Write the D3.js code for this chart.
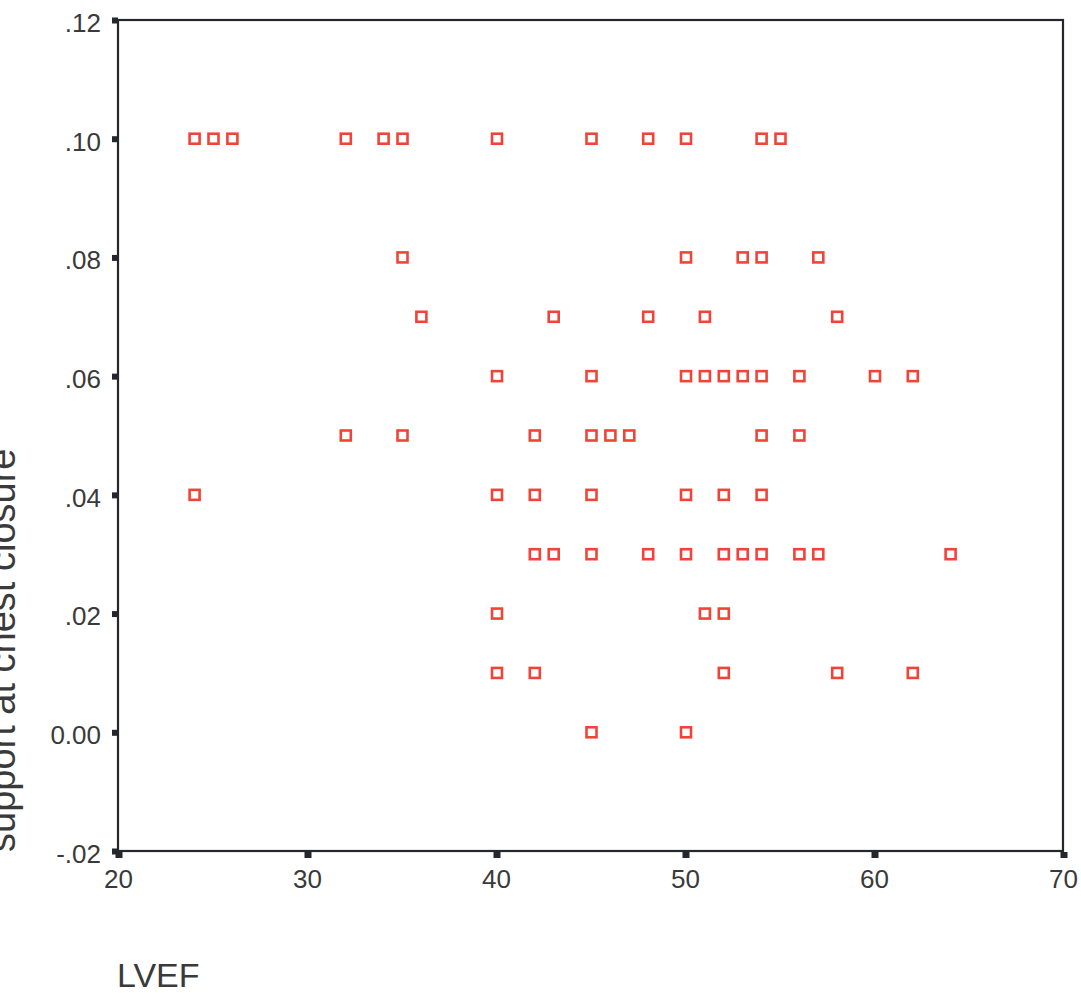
<!DOCTYPE html>
<html><head><meta charset="utf-8">
<script src="https://cdn.jsdelivr.net/npm/d3@7"></script>
<style>
html,body{margin:0;padding:0;background:#fff;}
svg{display:block;font-family:"Liberation Sans",Arial,sans-serif;}
</style></head>
<body><div id="chart"></div>
<script>
// LVEF values (x) and support at chest closure values (y)
const lvef = [
  24,25,26,32,34,35,40,45,48,50,54,55,
  35,50,53,54,57,
  36,43,48,51,58,
  40,45,50,51,52,53,54,56,60,62,
  32,35,42,45,46,47,54,56,
  24,40,42,45,50,52,54,
  42,43,45,48,50,52,53,54,56,57,64,
  40,51,52,
  40,42,52,58,62,
  45,50
];
const support = [
  .10,.10,.10,.10,.10,.10,.10,.10,.10,.10,.10,.10,
  .08,.08,.08,.08,.08,
  .07,.07,.07,.07,.07,
  .06,.06,.06,.06,.06,.06,.06,.06,.06,.06,
  .05,.05,.05,.05,.05,.05,.05,.05,
  .04,.04,.04,.04,.04,.04,.04,
  .03,.03,.03,.03,.03,.03,.03,.03,.03,.03,.03,
  .02,.02,.02,
  .01,.01,.01,.01,.01,
  0,0
];
const xTicks = [20,30,40,50,60,70];
const yTicks = [-0.02,0,0.02,0.04,0.06,0.08,0.10,0.12];
const xTitle = "LVEF";
const yTitle = "support at chest closure";

const W = 1081, H = 993;
const mLeft = 118, mRight = 1063, mTop = 20, mBottom = 851;

const svg = d3.select("#chart").append("svg").attr("width", W).attr("height", H);

const x = d3.scaleLinear().domain([20,70]).range([mLeft,mRight]);
const y = d3.scaleLinear().domain([-0.02,0.12]).range([mBottom,mTop]);

const axisColor = "#26262f";
const textColor = "#3a3a3a";

// frame
svg.append("rect").attr("x",mLeft).attr("y",mTop).attr("width",mRight-mLeft).attr("height",mBottom-mTop)
  .attr("fill","none").attr("stroke",axisColor).attr("stroke-width",2.2);

const fmtY = d => Math.abs(d) < 1e-9 ? "0.00" : d3.format(".2f")(d).replace("\u2212","-").replace("0.", ".");

// y axis
const yAxis = svg.append("g").attr("transform",`translate(${mLeft},0)`)
  .call(d3.axisLeft(y).tickValues(yTicks).tickFormat(fmtY).tickSize(0).tickPadding(17));
yAxis.select(".domain").remove();
yAxis.selectAll("text").attr("fill",textColor).attr("y",3).style("font-size","26px")
  .style("font-family","'Liberation Sans',Arial,sans-serif");
yAxis.selectAll(".tick").append("rect").attr("x",-6).attr("y",-3).attr("width",6).attr("height",6).attr("fill",axisColor);

// x axis
const xAxis = svg.append("g").attr("transform",`translate(0,${mBottom})`)
  .call(d3.axisBottom(x).tickValues(xTicks).tickFormat(d3.format("d")).tickSize(0).tickPadding(19));
xAxis.select(".domain").remove();
xAxis.selectAll("text").attr("fill",textColor).style("font-size","26px")
  .style("font-family","'Liberation Sans',Arial,sans-serif");
xAxis.selectAll(".tick").append("rect").attr("x",-3).attr("y",1).attr("width",7).attr("height",6).attr("fill",axisColor);

// points
const pts = lvef.map((v,i)=>({x:v,y:support[i]}));
const s = 10;
svg.append("g").selectAll("rect.pt").data(pts).join("rect").attr("class","pt")
  .attr("x",d=>x(d.x)-s/2+1).attr("y",d=>y(d.y)-s/2)
  .attr("width",s).attr("height",s)
  .attr("fill","#fff").attr("stroke","#f04438").attr("stroke-width",2.6);

// titles
svg.append("text").attr("x",117).attr("y",987).attr("fill",textColor)
  .style("font-size","34px").text(xTitle);
svg.append("text").attr("transform","translate(15,852) rotate(-90)").attr("text-anchor","start")
  .attr("fill",textColor).style("font-size","38px").text(yTitle);
</script></body></html>
